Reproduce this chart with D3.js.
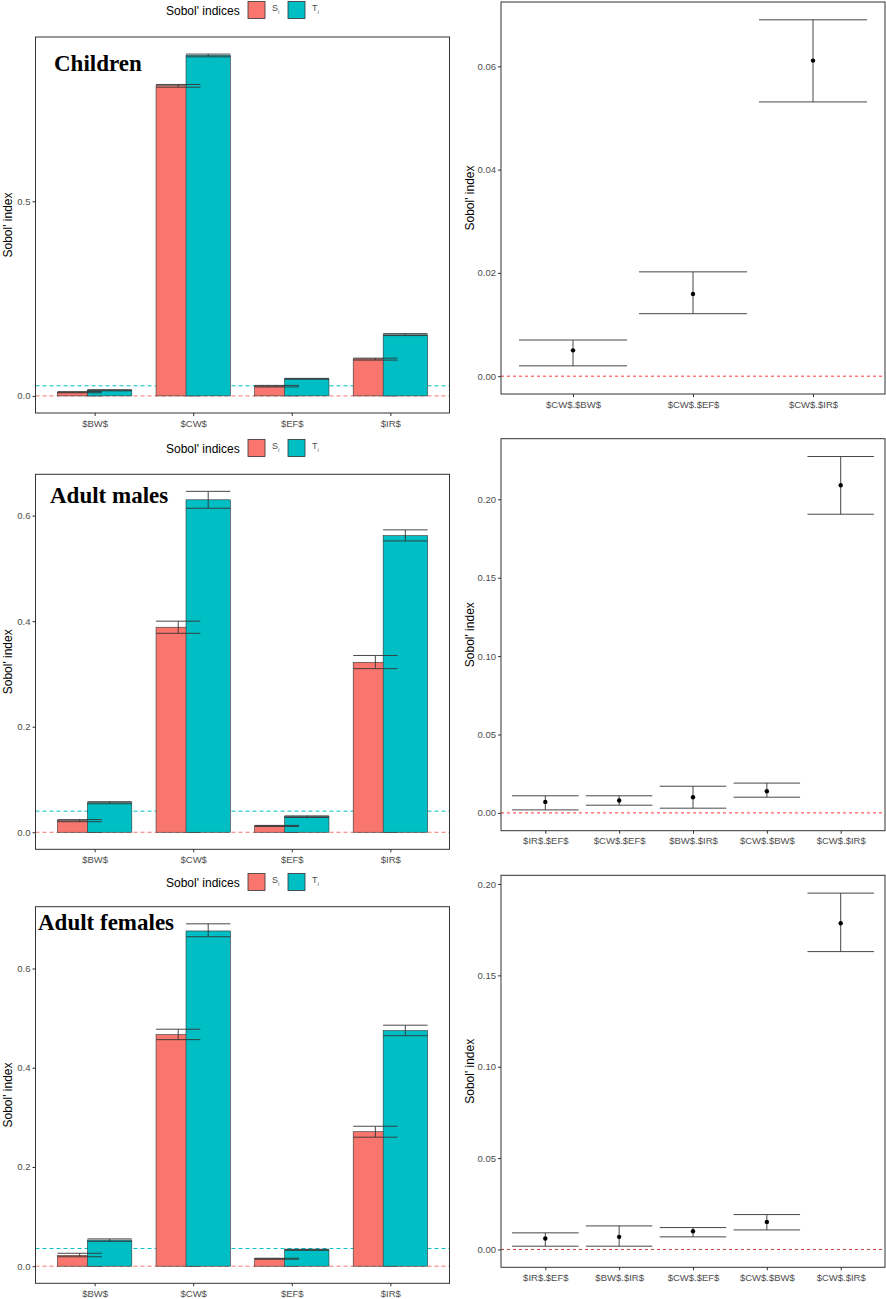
<!DOCTYPE html>
<html>
<head>
<meta charset="utf-8">
<script src="https://cdn.jsdelivr.net/npm/d3@7"></script>
<style>
  body { margin: 0; background: #fff; }
  svg { display: block; }
</style>
</head>
<body>
<div id="chart"></div>
<script>
// first order / total indices per parameter
var params = ["$BW$", "$CW$", "$EF$", "$IR$"];

var childS   = [0.0095, 0.797, 0.025, 0.095];
var childSlo = [0.008, 0.793, 0.023, 0.092];
var childShi = [0.011, 0.800, 0.027, 0.097];
var childT   = [0.0146, 0.875, 0.044, 0.157];
var childTlo = [0.013, 0.871, 0.043, 0.155];
var childThi = [0.016, 0.878, 0.045, 0.160];
var childRef = 0.026;

var maleS   = [0.022, 0.3885, 0.012, 0.322];
var maleSlo = [0.020, 0.377, 0.011, 0.310];
var maleShi = [0.024, 0.400, 0.013, 0.335];
var maleT   = [0.056, 0.630, 0.0296, 0.562];
var maleTlo = [0.054, 0.614, 0.028, 0.552];
var maleThi = [0.058, 0.646, 0.031, 0.573];
var maleRef = 0.040;

var femS   = [0.0216, 0.4667, 0.015, 0.271];
var femSlo = [0.019, 0.4566, 0.014, 0.260];
var femShi = [0.026, 0.4776, 0.016, 0.282];
var femT   = [0.0525, 0.6756, 0.033, 0.4747];
var femTlo = [0.050, 0.664, 0.032, 0.4646];
var femThi = [0.055, 0.690, 0.034, 0.4857];
var femRef = 0.0357;

// second order indices
var childPairs = ["$CW$.$BW$", "$CW$.$EF$", "$CW$.$IR$"];
var childSij   = [0.005, 0.0159, 0.0611];
var childSijLo = [0.002, 0.0121, 0.0531];
var childSijHi = [0.007, 0.0202, 0.069];

var malePairs = ["$IR$.$EF$", "$CW$.$EF$", "$BW$.$IR$", "$CW$.$BW$", "$CW$.$IR$"];
var maleSij   = [0.007, 0.0079, 0.010, 0.0138, 0.209];
var maleSijLo = [0.0019, 0.0049, 0.003, 0.010, 0.1905];
var maleSijHi = [0.0109, 0.0109, 0.017, 0.019, 0.2273];

var femPairs = ["$IR$.$EF$", "$BW$.$IR$", "$CW$.$EF$", "$CW$.$BW$", "$CW$.$IR$"];
var femSij   = [0.006, 0.0069, 0.010, 0.0151, 0.1785];
var femSijLo = [0.0018, 0.0018, 0.0069, 0.0107, 0.163];
var femSijHi = [0.0091, 0.0129, 0.012, 0.0191, 0.195];

var sColor = "#F8766D", tColor = "#00BFC4";
var axisText = "#4D4D4D", lineCol = "#333333";

var svg = d3.select("#chart").append("svg")
    .attr("width", 886)
    .attr("height", 1299);

// ggplot style 5% expansion, zero always included (hline)
function expandDomain(vals){
    var lo = Math.min(0, d3.min(vals)), hi = d3.max(vals);
    var pad = (hi - lo) * 0.05;
    return [lo - pad, hi + pad];
}

function yTitle(x, y0, y1){
    svg.append("text")
        .attr("transform", "translate(" + x + "," + ((y0 + y1) / 2) + ") rotate(-90)")
        .attr("text-anchor", "middle")
        .attr("dy", "0.35em")
        .style("font-family", "Liberation Sans, Arial, sans-serif")
        .style("font-size", "12px")
        .text("Sobol' index");
}

function styleAxis(g){
    g.select(".domain").remove();
    g.selectAll(".tick line").attr("stroke", lineCol);
    g.selectAll(".tick text")
        .attr("fill", axisText)
        .style("font-family", "Liberation Sans, Arial, sans-serif")
        .style("font-size", "9.5px");
}

function legend(cx, y){
    var g = svg.append("g").attr("transform", "translate(" + cx + "," + y + ")");
    g.append("text")
        .attr("x", 0).attr("y", 4.5)
        .style("font-family", "Liberation Sans, Arial, sans-serif")
        .style("font-size", "12px")
        .text("Sobol' indices");
    var keys = [{c: sColor, l: "S"}, {c: tColor, l: "T"}];
    keys.forEach(function(k, i){
        var x0 = 82 + i * 40;
        g.append("rect")
            .attr("x", x0).attr("y", -8.5)
            .attr("width", 17).attr("height", 17)
            .attr("fill", k.c)
            .attr("stroke", lineCol).attr("stroke-width", 0.8);
        var t = g.append("text")
            .attr("x", x0 + 24).attr("y", 1)
            .style("font-family", "Liberation Sans, Arial, sans-serif")
            .style("font-size", "9px")
            .attr("fill", axisText);
        t.append("tspan").text(k.l);
        t.append("tspan").attr("dy", 3).style("font-size", "6px")
            .style("font-style", "italic").text("i");
    });
}

function drawBarPanel(cfg){
    var x = d3.scalePoint().domain(params).range([cfg.x0, cfg.x1]).padding(0.6);
    var allVals = cfg.Shi.concat(cfg.Thi, cfg.Slo, cfg.Tlo);
    var y = d3.scaleLinear().domain(expandDomain(allVals)).range([cfg.y1, cfg.y0]);
    var step = x.step();
    var barW = step * 0.45, dodge = step * 0.152;

    var rows = params.map(function(p, i){
        return {p: p, S: cfg.S[i], Slo: cfg.Slo[i], Shi: cfg.Shi[i],
                T: cfg.T[i], Tlo: cfg.Tlo[i], Thi: cfg.Thi[i]};
    });

    var g = svg.append("g");

    // reference lines under the bars
    g.append("line")
        .attr("x1", cfg.x0).attr("x2", cfg.x1)
        .attr("y1", y(cfg.ref)).attr("y2", y(cfg.ref))
        .attr("stroke", tColor).attr("stroke-width", 1)
        .attr("stroke-dasharray", "4,3");
    g.append("line")
        .attr("x1", cfg.x0).attr("x2", cfg.x1)
        .attr("y1", y(0)).attr("y2", y(0))
        .attr("stroke", sColor).attr("stroke-width", 1)
        .attr("stroke-dasharray", "4,3");

    g.selectAll(".barS").data(rows).enter().append("rect")
        .attr("class", "barS")
        .attr("x", function(d){ return x(d.p) - dodge - barW / 2; })
        .attr("y", function(d){ return y(d.S); })
        .attr("width", barW)
        .attr("height", function(d){ return y(0) - y(d.S); })
        .attr("fill", sColor)
        .attr("stroke", lineCol).attr("stroke-width", 0.6);

    g.selectAll(".barT").data(rows).enter().append("rect")
        .attr("class", "barT")
        .attr("x", function(d){ return x(d.p) + dodge - barW / 2; })
        .attr("y", function(d){ return y(d.T); })
        .attr("width", barW)
        .attr("height", function(d){ return y(0) - y(d.T); })
        .attr("fill", tColor)
        .attr("stroke", lineCol).attr("stroke-width", 0.6);

    // error bars
    [["S", -1], ["T", 1]].forEach(function(k){
        var key = k[0], sgn = k[1];
        rows.forEach(function(d){
            var cx = x(d.p) + sgn * dodge;
            var lo = y(d[key + "lo"]), hi = y(d[key + "hi"]);
            g.append("line").attr("x1", cx).attr("x2", cx).attr("y1", lo).attr("y2", hi)
                .attr("stroke", lineCol).attr("stroke-width", 0.9);
            [lo, hi].forEach(function(yy){
                g.append("line").attr("x1", cx - barW / 2).attr("x2", cx + barW / 2)
                    .attr("y1", yy).attr("y2", yy)
                    .attr("stroke", lineCol).attr("stroke-width", 0.9);
            });
        });
    });

    g.append("rect")
        .attr("x", cfg.x0).attr("y", cfg.y0)
        .attr("width", cfg.x1 - cfg.x0).attr("height", cfg.y1 - cfg.y0)
        .attr("fill", "none").attr("stroke", lineCol).attr("stroke-width", 1);

    var ya = g.append("g").attr("transform", "translate(" + cfg.x0 + ",0)")
        .call(d3.axisLeft(y).tickValues(cfg.ticks).tickFormat(d3.format(".1f")).tickSize(3).tickPadding(2));
    styleAxis(ya);
    var xa = g.append("g").attr("transform", "translate(0," + cfg.y1 + ")")
        .call(d3.axisBottom(x).tickSize(3).tickPadding(4));
    styleAxis(xa);

    g.append("text")
        .attr("x", cfg.titleX).attr("y", cfg.titleY)
        .style("font-family", "Liberation Serif, Times New Roman, serif")
        .style("font-weight", "bold")
        .style("font-size", "23px")
        .text(cfg.title);

    yTitle(8, cfg.y0, cfg.y1);
    legend(166, cfg.legendY);
}

function drawPointPanel(cfg){
    var x = d3.scalePoint().domain(cfg.pairs).range([cfg.x0, cfg.x1]).padding(0.6);
    var y = d3.scaleLinear().domain(expandDomain(cfg.hi.concat(cfg.lo))).range([cfg.y1, cfg.y0]);
    var w = x.step() * 0.9;

    var rows = cfg.pairs.map(function(p, i){
        return {p: p, v: cfg.v[i], lo: cfg.lo[i], hi: cfg.hi[i]};
    });

    var g = svg.append("g");

    g.append("line")
        .attr("x1", cfg.x0).attr("x2", cfg.x1)
        .attr("y1", y(0)).attr("y2", y(0))
        .attr("stroke", cfg.refColor).attr("stroke-width", 0.9)
        .attr("stroke-dasharray", "3,3");

    var eb = g.selectAll(".eb").data(rows).enter().append("g");
    eb.append("line")
        .attr("x1", function(d){ return x(d.p); })
        .attr("x2", function(d){ return x(d.p); })
        .attr("y1", function(d){ return y(d.lo); })
        .attr("y2", function(d){ return y(d.hi); })
        .attr("stroke", lineCol).attr("stroke-width", 0.9);
    eb.append("line")
        .attr("x1", function(d){ return x(d.p) - w / 2; })
        .attr("x2", function(d){ return x(d.p) + w / 2; })
        .attr("y1", function(d){ return y(d.lo); })
        .attr("y2", function(d){ return y(d.lo); })
        .attr("stroke", lineCol).attr("stroke-width", 0.9);
    eb.append("line")
        .attr("x1", function(d){ return x(d.p) - w / 2; })
        .attr("x2", function(d){ return x(d.p) + w / 2; })
        .attr("y1", function(d){ return y(d.hi); })
        .attr("y2", function(d){ return y(d.hi); })
        .attr("stroke", lineCol).attr("stroke-width", 0.9);
    eb.append("circle")
        .attr("cx", function(d){ return x(d.p); })
        .attr("cy", function(d){ return y(d.v); })
        .attr("r", 2.2)
        .attr("fill", "#000");

    g.append("rect")
        .attr("x", cfg.x0).attr("y", cfg.y0)
        .attr("width", cfg.x1 - cfg.x0).attr("height", cfg.y1 - cfg.y0)
        .attr("fill", "none").attr("stroke", lineCol).attr("stroke-width", 1);

    var ya = g.append("g").attr("transform", "translate(" + cfg.x0 + ",0)")
        .call(d3.axisLeft(y).tickValues(cfg.ticks).tickFormat(d3.format(".2f")).tickSize(3).tickPadding(2));
    styleAxis(ya);
    var xa = g.append("g").attr("transform", "translate(0," + cfg.y1 + ")")
        .call(d3.axisBottom(x).tickSize(3).tickPadding(4));
    styleAxis(xa);

    yTitle(470, cfg.y0, cfg.y1);
}

drawBarPanel({S: childS, Slo: childSlo, Shi: childShi, T: childT, Tlo: childTlo, Thi: childThi,
    ref: childRef, ticks: [0, 0.5], title: "Children", titleX: 54, titleY: 71,
    x0: 35.5, x1: 449.5, y0: 37, y1: 413, legendY: 10});
drawBarPanel({S: maleS, Slo: maleSlo, Shi: maleShi, T: maleT, Tlo: maleTlo, Thi: maleThi,
    ref: maleRef, ticks: [0, 0.2, 0.4, 0.6], title: "Adult males", titleX: 50, titleY: 503,
    x0: 35.5, x1: 449.5, y0: 474.3, y1: 849.3, legendY: 448});
drawBarPanel({S: femS, Slo: femSlo, Shi: femShi, T: femT, Tlo: femTlo, Thi: femThi,
    ref: femRef, ticks: [0, 0.2, 0.4, 0.6], title: "Adult females", titleX: 38, titleY: 930,
    x0: 35.5, x1: 449.5, y0: 906.7, y1: 1283.3, legendY: 882});

drawPointPanel({pairs: childPairs, v: childSij, lo: childSijLo, hi: childSijHi,
    ticks: [0, 0.02, 0.04, 0.06], refColor: "#ff2020",
    x0: 501, x1: 885, y0: 2, y1: 394});
drawPointPanel({pairs: malePairs, v: maleSij, lo: maleSijLo, hi: maleSijHi,
    ticks: [0, 0.05, 0.10, 0.15, 0.20], refColor: "#ff2020",
    x0: 501, x1: 885, y0: 438.7, y1: 830.7});
drawPointPanel({pairs: femPairs, v: femSij, lo: femSijLo, hi: femSijHi,
    ticks: [0, 0.05, 0.10, 0.15, 0.20], refColor: "#c0282b",
    x0: 501, x1: 885, y0: 875.3, y1: 1267.3});
</script>
</body>
</html>
